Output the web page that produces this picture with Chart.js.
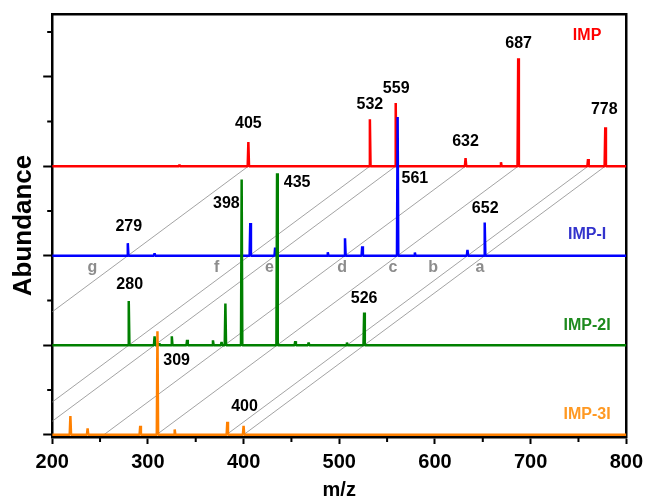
<!DOCTYPE html>
<html>
<head>
<meta charset="utf-8">
<title>MS spectra</title>
<script src="https://cdn.jsdelivr.net/npm/chart.js@4.4.1/dist/chart.umd.min.js"></script>
<style>
  html, body { margin: 0; padding: 0; background: #fff; }
  #wrap { width: 646px; height: 498px; }
</style>
</head>
<body>
<div id="wrap"><canvas id="ms" width="646" height="498"></canvas></div>
<script>
// m/z axis
const xMin = 200, xMax = 800;
const xMajor = [200, 300, 400, 500, 600, 700, 800];
const xMinor = [250, 350, 450, 550, 650, 750];
// abundance axis (no labels, only ticks)
const yMajor = [0, 2, 4, 6, 8];
const yMinor = [1, 3, 5, 7, 9];

// peaks: m/z and height above its own baseline
const impMz    = [333, 405, 532, 559, 632, 669, 687, 760, 778];
const impAbund = [0.03, 0.54, 1.05, 1.41, 0.18, 0.09, 2.41, 0.16, 0.87];

const imp1Mz    = [279, 307, 407, 433, 488, 506, 524, 561, 579, 634, 652];
const imp1Abund = [0.28, 0.05, 0.73, 0.18, 0.08, 0.39, 0.21, 3.10, 0.07, 0.13, 0.74];

const imp2Mz    = [280, 307, 312, 325, 341, 368, 377, 381, 398, 435, 454, 468, 508, 526];
const imp2Abund = [0.99, 0.20, 0.04, 0.20, 0.12, 0.11, 0.07, 0.93, 3.70, 3.84, 0.09, 0.06, 0.06, 0.73];

const imp3Mz    = [219, 237, 292, 310, 328, 383, 400];
const imp3Abund = [0.42, 0.14, 0.20, 2.31, 0.12, 0.29, 0.20];

// gray guide lines start at these IMP peaks, shifting by one iodine per trace
const guideStart = [405, 532, 559, 632, 687, 760, 778];
const iodineShift = 126;
const guideNames = ["g", "f", "e", "d", "c", "b", "a"];
const guideNameMz = [242, 372, 427, 503, 556, 598, 647];

// peak labels
const peakText = ["405", "532", "559", "632", "687", "778",
                  "279", "561", "652",
                  "280", "398", "435", "526",
                  "309", "400"];
const peakTextMz = [405, 532, 559.5, 632, 687.5, 777,
                    280, 579, 652.5,
                    281, 382, 456, 526,
                    330, 401];
const peakTextY = [6.96, 7.38, 7.74, 6.56, 8.74, 7.27,
                   4.64, 5.72, 5.06,
                   3.35, 5.17, 5.64, 3.04,
                   1.65, 0.62];

// trace names
const seriesNames = ["IMP", "IMP-I", "IMP-2I", "IMP-3I"];
const seriesLineColors = ["#ff0000", "#0000ff", "#008000", "#ff8000"];
const seriesTextColors = ["#ff0000", "#3333cc", "#1e8a1e", "#ff9922"];
const seriesOffsets = [6, 4, 2, 0];
const seriesNameY = [8.91, 4.47, 2.43, 0.46];
const seriesNameMz = 759;

Chart.defaults.font.family = "'Liberation Sans', Arial, Helvetica, sans-serif";
Chart.defaults.color = "#000";

// stick spectrum: baseline with a narrow spike for every peak
function stickSpectrum(mz, abund, base) {
  const pts = [{ x: xMin, y: base }];
  mz.forEach((m, i) => {
    pts.push({ x: m - 0.7, y: base });
    pts.push({ x: m, y: base + abund[i] });
    pts.push({ x: m + 0.7, y: base });
  });
  pts.push({ x: xMax, y: base });
  return pts;
}

const allMz = [impMz, imp1Mz, imp2Mz, imp3Mz];
const allAbund = [impAbund, imp1Abund, imp2Abund, imp3Abund];

const datasets = [];
seriesNames.forEach((name, i) => {
  datasets.push({
    label: name,
    data: stickSpectrum(allMz[i], allAbund[i], seriesOffsets[i]),
    borderColor: seriesLineColors[i],
    borderWidth: 2.5,
    borderJoinStyle: "bevel",
    pointRadius: 0,
    tension: 0,
    order: 4 - i
  });
});

guideStart.forEach(m => {
  datasets.push({
    label: "guide " + m,
    data: [{ x: m, y: 6 }, { x: m - 3 * iodineShift, y: 0 }],
    borderColor: "#8c8c8c",
    borderWidth: 0.8,
    pointRadius: 0,
    order: 10
  });
});

// minor tick marks on the outer side of the axes
const minorTicks = {
  id: "minorTicks",
  afterDraw(chart) {
    const { ctx, chartArea } = chart;
    const xs = chart.scales.x, ys = chart.scales.y;
    ctx.save();
    ctx.strokeStyle = "#000";
    ctx.lineWidth = 2;
    ctx.beginPath();
    xMinor.forEach(v => {
      const px = xs.getPixelForValue(v);
      ctx.moveTo(px, chartArea.bottom);
      ctx.lineTo(px, chartArea.bottom + 5);
    });
    yMinor.forEach(v => {
      const py = ys.getPixelForValue(v);
      ctx.moveTo(chartArea.left, py);
      ctx.lineTo(chartArea.left - 5, py);
    });
    ctx.stroke();
    ctx.restore();
  }
};

// peak labels, trace names and guide letters
const textLabels = {
  id: "textLabels",
  afterDatasetsDraw(chart) {
    const { ctx } = chart;
    const xs = chart.scales.x, ys = chart.scales.y;
    ctx.save();
    ctx.textAlign = "center";
    ctx.textBaseline = "middle";
    ctx.font = "bold 16px 'Liberation Sans', Arial, sans-serif";

    ctx.fillStyle = "#000";
    peakText.forEach((t, i) => {
      ctx.fillText(t, xs.getPixelForValue(peakTextMz[i]), ys.getPixelForValue(peakTextY[i]));
    });

    seriesNames.forEach((t, i) => {
      ctx.fillStyle = seriesTextColors[i];
      ctx.fillText(t, xs.getPixelForValue(seriesNameMz), ys.getPixelForValue(seriesNameY[i]));
    });

    ctx.fillStyle = "#8c8c8c";
    guideNames.forEach((t, i) => {
      ctx.fillText(t, xs.getPixelForValue(guideNameMz[i]), ys.getPixelForValue(3.74));
    });
    ctx.restore();
  }
};

new Chart(document.getElementById("ms").getContext("2d"), {
  type: "line",
  data: { datasets: datasets },
  options: {
    responsive: false,
    animation: false,
    layout: { padding: { left: 5, right: 17, top: 14, bottom: 0 } },
    plugins: {
      legend: { display: false },
      tooltip: { enabled: false }
    },
    scales: {
      x: {
        type: "linear",
        position: "bottom",
        min: xMin,
        max: xMax,
        afterBuildTicks: s => { s.ticks = xMajor.map(v => ({ value: v })); },
        ticks: { font: { size: 20, weight: "bold", lineHeight: 1.5 }, padding: 3, maxRotation: 0, color: "#000" },
        grid: { drawOnChartArea: false, tickLength: 7, tickWidth: 2, tickColor: "#000" },
        border: { color: "#000", width: 2.5 },
        title: {
          display: true,
          text: "m/z",
          font: { size: 20, weight: "bold", lineHeight: 0.8 },
          padding: { top: 2, bottom: 0 },
          color: "#000"
        }
      },
      y: {
        type: "linear",
        position: "left",
        min: -0.05,
        max: 9.4,
        afterBuildTicks: s => { s.ticks = yMajor.map(v => ({ value: v })); },
        ticks: { display: false },
        grid: { drawOnChartArea: false, tickLength: 9, tickWidth: 2, tickColor: "#000" },
        border: { color: "#000", width: 2.5 },
        title: {
          display: true,
          text: "Abundance",
          font: { size: 26, weight: "bold" },
          padding: { top: 3, bottom: 4 },
          color: "#000"
        }
      },
      xTop: {
        type: "linear",
        position: "top",
        min: xMin,
        max: xMax,
        ticks: { display: false },
        grid: { display: false, drawTicks: false },
        border: { color: "#000", width: 2.5 }
      },
      yRight: {
        type: "linear",
        position: "right",
        min: 0,
        max: 1,
        ticks: { display: false },
        grid: { display: false, drawTicks: false },
        border: { color: "#000", width: 2.5 }
      }
    }
  },
  plugins: [minorTicks, textLabels]
});
</script>
</body>
</html>
